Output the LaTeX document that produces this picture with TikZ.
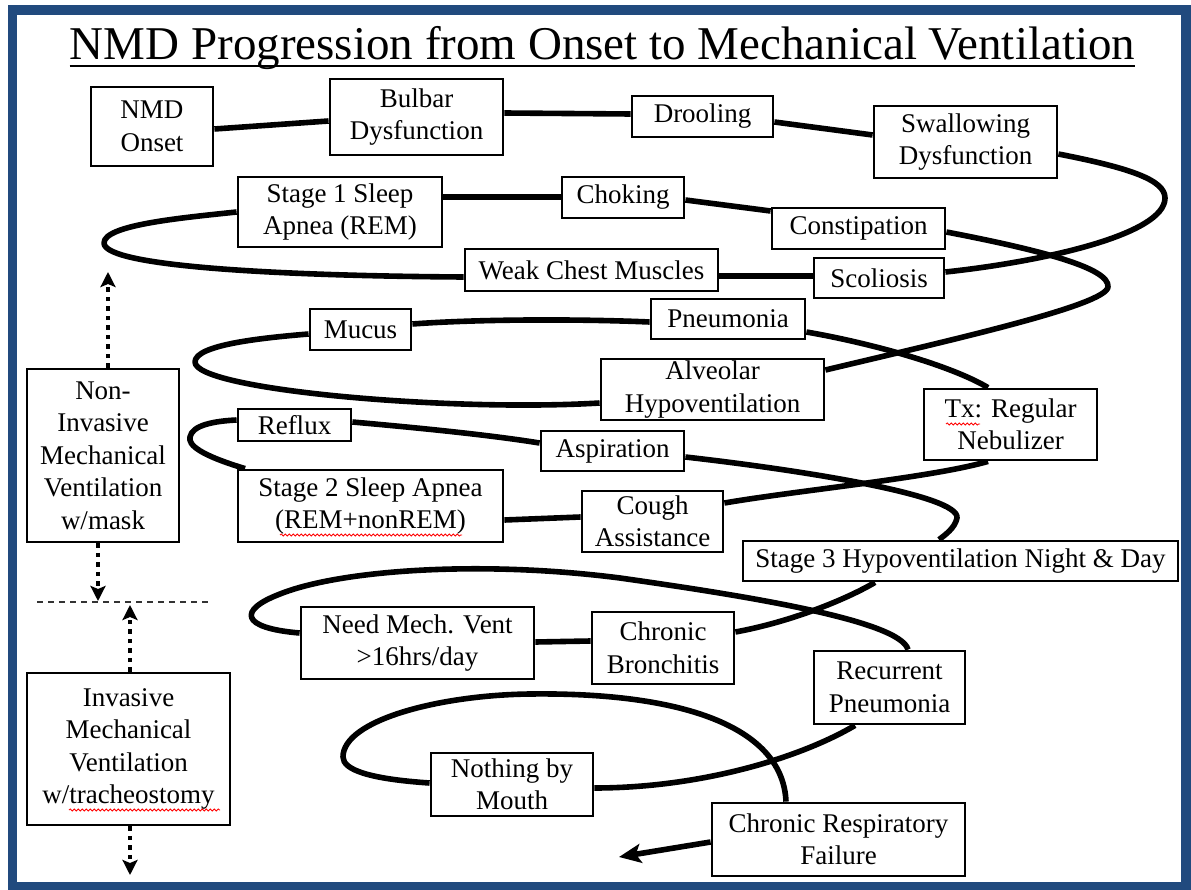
\documentclass[tikz,border=0pt]{standalone}
\usepackage{fontspec}
\setmainfont{Liberation Serif}
\usetikzlibrary{arrows.meta,backgrounds,decorations.pathmorphing}
\definecolor{framblue}{RGB}{33,74,126}
\tikzset{
  box/.style={draw, line width=2.8pt, fill=white, inner sep=0pt, align=center,
              font=\fontsize{27pt}{32.5pt}\selectfont},
  conn/.style={line width=5.6pt, line join=round},
  dotarrow/.style={line width=4.5pt, dash pattern=on 4.5pt off 5pt,
                   -{Stealth[length=15pt,width=15pt,inset=3pt]}},
  squiggle/.style={red, line width=0.8pt, decorate,
                   decoration={snake, amplitude=1.1pt, segment length=4pt}}
}
\begin{document}
\begin{tikzpicture}[x=1pt,y=-1pt]
\useasboundingbox (0,0) rectangle (1191,890);

% title
\node[anchor=base, inner sep=0pt, font=\fontsize{47pt}{56pt}\selectfont] (title) at (602.5,60)
  {NMD Progression from Onset to Mechanical Ventilation};
\draw[line width=1.8pt] ([yshift=-6pt]title.base west) -- ([yshift=-6pt]title.base east);

% stages of the disease
\node[box, minimum width=122pt, minimum height=79pt] (onset)   at (152,126.5) {NMD\\Onset};
\node[box, minimum width=173pt, minimum height=76pt] (bulbar)  at (416.5,117) {Bulbar\\Dysfunction};
\node[box, minimum width=141pt, minimum height=41pt] (drool)   at (702.5,116.5) {Drooling};
\node[box, minimum width=183pt, minimum height=72pt] (swallow) at (965.5,142) {Swallowing\\Dysfunction};
\node[box, minimum width=204pt, minimum height=70pt] (stage1)  at (340,212) {Stage 1 Sleep\\Apnea (REM)};
\node[box, minimum width=122pt, minimum height=41pt] (choke)   at (623,197.5) {Choking};
\node[box, minimum width=173pt, minimum height=41pt] (constip) at (858.5,228.5) {Constipation};
\node[box, minimum width=253pt, minimum height=42pt] (weak)    at (591.5,270) {Weak Chest Muscles};
\node[box, minimum width=130pt, minimum height=40pt] (scolio)  at (879,278) {Scoliosis};
\node[box, minimum width=101pt, minimum height=41pt] (mucus)   at (360.5,329.5) {Mucus};
\node[box, minimum width=154pt, minimum height=40pt] (pneu)    at (728,319) {Pneumonia};
\node[box, minimum width=223pt, minimum height=61pt] (alveol)  at (712.5,389.5) {Alveolar\\Hypoventilation};
\node[box, minimum width=173pt, minimum height=71pt] (tx)      at (1010.5,424.5) {Tx: Regular\\Nebulizer};
\node[box, minimum width=113pt, minimum height=32pt] (reflux)  at (294.5,425) {Reflux};
\node[box, minimum width=143pt, minimum height=40pt] (aspir)   at (612.5,451) {Aspiration};
\node[box, minimum width=265pt, minimum height=72pt] (stage2)  at (370.5,506) {Stage 2 Sleep Apnea\\(REM+nonREM)};
\node[box, minimum width=141pt, minimum height=61pt] (cough)   at (652.5,521.5) {Cough\\Assistance};
\node[box, minimum width=435pt, minimum height=40pt] (stage3)  at (960.5,561) {Stage 3 Hypoventilation Night \& Day};
\node[box, minimum width=233pt, minimum height=72pt] (needvent) at (417.5,643) {Need Mech. Vent\\>16hrs/day};
\node[box, minimum width=142pt, minimum height=72pt] (bronch)  at (663,648) {Chronic\\Bronchitis};
\node[box, minimum width=151pt, minimum height=73pt] (recur)   at (889.5,687.5) {Recurrent\\Pneumonia};
\node[box, minimum width=162pt, minimum height=63pt] (nothing) at (512,784.5) {Nothing by\\Mouth};
\node[box, minimum width=253pt, minimum height=73pt] (crf)     at (838.5,839.5) {Chronic Respiratory\\Failure};

% ventilation phases
\node[box, minimum width=152pt, minimum height=173pt] (niv) at (103,455.5)
  {Non-\\Invasive\\Mechanical\\Ventilation\\w/mask};
\node[box, minimum width=203pt, minimum height=152pt] (iv) at (128.5,749)
  {Invasive\\Mechanical\\Ventilation\\w/tracheostomy};

\coordinate (endpt)    at (619,857);
\coordinate (nivUp)    at (108,272);
\coordinate (nivDown)  at (98,601);
\coordinate (ivUp)     at (130,605);
\coordinate (ivDown)   at (130,875);
\coordinate (sepL)     at (37,602);
\coordinate (sepR)     at (210,602);

\begin{pgfonlayer}{background}
\fill[white] (0,0) rectangle (1191,890);
% the spiral of progression
\draw[conn] (onset.east |- 0,129) -- (bulbar.west |- 0,121);
\draw[conn] (bulbar.east |- 0,113) -- (drool.west |- 0,114);
\draw[conn] (drool.east |- 0,122) -- (swallow.west |- 0,135);
\draw[conn] (swallow.east |- 0,154) .. controls (1130,168) and (1165,180) .. (1165,198)
  .. controls (1165,235) and (1040,262) .. (scolio.east |- 0,272);
\draw[conn] (scolio.west |- 0,276) -- (weak.east |- 0,276);
\draw[conn] (weak.west |- 0,277) .. controls (300,276) and (104,268) .. (104,243)
  .. controls (104,225) and (180,218) .. (stage1.west |- 0,212);
\draw[conn] (stage1.east |- 0,197) -- (choke.west |- 0,197);
\draw[conn] (choke.east |- 0,200) -- (constip.west |- 0,211);
\draw[conn] (constip.east |- 0,232) .. controls (1040,250) and (1110,268) .. (1108,287)
  .. controls (1106,305) and (960,338) .. (alveol.east |- 0,370);
\draw[conn] (alveol.west |- 0,403) .. controls (450,412) and (195,390) .. (195,362)
  .. controls (195,345) and (260,338) .. (mucus.west |- 0,334);
\draw[conn] (mucus.east |- 0,324) .. controls (480,319) and (580,319) .. (pneu.west |- 0,322);
\draw[conn] (pneu.east |- 0,332) .. controls (870,343) and (950,365) .. (988,0 |- tx.north);
\draw[conn] (988,0 |- tx.south) .. controls (930,478) and (800,490) .. (cough.east |- 0,503);
\draw[conn] (cough.west |- 0,517) -- (stage2.east |- 0,520);
\draw[conn] (245,0 |- stage2.north) .. controls (200,455) and (188,445) .. (190,437)
  .. controls (192,425) and (215,421) .. (reflux.west |- 0,420);
\draw[conn] (reflux.east |- 0,422) .. controls (420,428) and (490,435) .. (aspir.west |- 0,443);
\draw[conn] (aspir.east |- 0,457) .. controls (800,470) and (960,495) .. (957,518)
  .. controls (955,528) and (945,535) .. (939,0 |- stage3.north);
\draw[conn] (875,0 |- stage3.south) .. controls (845,600) and (790,622) .. (bronch.east |- 0,632);
\draw[conn] (bronch.west |- 0,641) -- (needvent.east |- 0,642);
\draw[conn] (needvent.west |- 0,633) .. controls (240,628) and (238,610) .. (280,594)
  .. controls (340,570) and (480,560) .. (620,578)
  .. controls (740,595) and (900,620) .. (908,0 |- recur.north);
\draw[conn] (855,0 |- recur.south) .. controls (800,758) and (700,788) .. (nothing.east |- 0,788);
\draw[conn] (nothing.west |- 0,783) .. controls (370,779) and (343,770) .. (343,757)
  .. controls (343,720) and (440,695) .. (530,694)
  .. controls (690,692) and (783,730) .. (786,0 |- crf.north);
\draw[conn, -{Stealth[length=22pt,width=19pt,inset=5pt]}] (crf.west |- 0,842) -- (endpt);
\end{pgfonlayer}

% ventilation arrows and divider
\draw[dotarrow] (108,0 |- niv.north) -- (nivUp);
\draw[dotarrow] (98,0 |- niv.south) -- (nivDown);
\draw[dotarrow] (130,0 |- iv.north) -- (ivUp);
\draw[dotarrow] (130,0 |- iv.south) -- (ivDown);
\draw[line width=1.2pt, dash pattern=on 6pt off 5pt, black!80] (sepL) -- (sepR);

% spelling marks
\draw[squiggle] (946,424) -- (980,424);
\draw[squiggle] (280,535) -- (462,535);
\draw[squiggle] (69,810) -- (220,810);

% frame
\draw[framblue, line width=9.5pt] (12.5,10) rectangle (1186,887);
\end{tikzpicture}
\end{document}
